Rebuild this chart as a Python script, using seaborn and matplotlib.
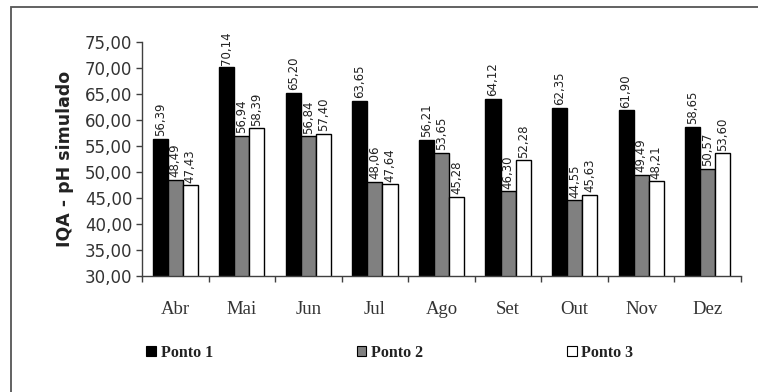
import matplotlib
matplotlib.use("Agg")
import matplotlib.pyplot as plt
from matplotlib.patches import Rectangle, Patch
import numpy as np
import pandas as pd
import seaborn as sns

meses = ["Abr", "Mai", "Jun", "Jul", "Ago", "Set", "Out", "Nov", "Dez"]
ponto1 = [56.39, 70.14, 65.20, 63.65, 56.21, 64.12, 62.35, 61.90, 58.65]
ponto2 = [48.49, 56.94, 56.84, 48.06, 53.65, 46.30, 44.55, 49.49, 50.57]
ponto3 = [47.43, 58.39, 57.40, 47.64, 45.28, 52.28, 45.63, 48.21, 53.60]
series = ["Ponto 1", "Ponto 2", "Ponto 3"]
cores = ["#000000", "#808080", "#ffffff"]
yticks = [30, 35, 40, 45, 50, 55, 60, 65, 70, 75]

df = pd.DataFrame({
    "mes": meses * 3,
    "valor": ponto1 + ponto2 + ponto3,
    "ponto": [s for s in series for _ in meses],
})

sns.set_theme(style="white")
W, H = 758, 392
fig = plt.figure(figsize=(W / 100, H / 100), dpi=100)
fig.patch.set_facecolor("white")
ax = fig.add_axes([142 / W, 1 - 276 / H, (741 - 142) / W, (276 - 42) / H])

sns.barplot(data=df, x="mes", y="valor", hue="ponto", order=meses,
            hue_order=series, palette=cores, edgecolor="black",
            linewidth=1.0, width=0.68, ax=ax, legend=False)

ax.set_ylim(30, 75)
ax.set_xlim(-0.5, len(meses) - 0.5)

# value labels above each bar
for cont, vals in zip(ax.containers, [ponto1, ponto2, ponto3]):
    for bar, v in zip(cont, vals):
        ax.text(bar.get_x() + bar.get_width() / 2, v + 0.5,
                f"{v:.2f}".replace(".", ","), rotation=90,
                ha="center", va="bottom", fontsize=8.5, color="#222222",
                family="DejaVu Sans")

# axes styling
for s in ["top", "right"]:
    ax.spines[s].set_visible(False)
for s in ["left", "bottom"]:
    ax.spines[s].set_color("#404040")
    ax.spines[s].set_linewidth(1.0)

ax.set_yticks(yticks)
ax.set_yticklabels([f"{t:.2f}".replace(".", ",") for t in yticks],
                   fontsize=12, color="#333333", family="DejaVu Sans")
ax.tick_params(axis="y", direction="out", length=4, width=1, color="#404040",
               left=True, pad=3)

ax.set_xticks(range(len(meses)))
ax.set_xticklabels(meses, fontsize=13.5, family="Liberation Serif", color="#333333")
ax.set_xticks(np.arange(-0.5, len(meses)), minor=True)
ax.tick_params(axis="x", which="major", length=0, pad=18)
ax.tick_params(axis="x", which="minor", direction="out", length=4, width=1,
               color="#404040", bottom=True)

ax.set_xlabel("")
ax.set_ylabel("IQA - pH simulado", fontsize=12.5, fontweight="bold",
              color="#222222", family="DejaVu Sans", labelpad=8)
ax.grid(False)

# legend below the plot
handles = [Patch(facecolor=c, edgecolor="black", linewidth=0.8) for c in cores]
fig.legend(handles, series, loc="center left", ncol=3,
           bbox_to_anchor=(132 / W, 1 - 353 / H), frameon=False,
           prop={"family": "Liberation Serif", "size": 11.5, "weight": "bold"},
           labelcolor="#222222",
           handlelength=0.6, handleheight=0.6, handletextpad=0.3,
           columnspacing=9.0)

# outer frame
fig.add_artist(Rectangle((11 / W, -0.05), 1.1, 1 - 7 / H + 0.05,
                         transform=fig.transFigure, fill=False,
                         edgecolor="#555555", linewidth=1.3))

fig.savefig("out.png", dpi=100)
